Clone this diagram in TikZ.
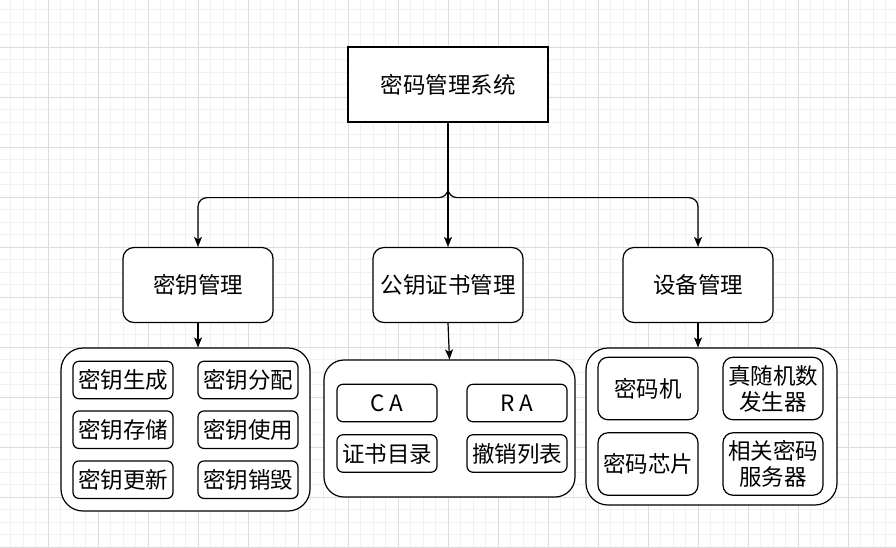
\documentclass[tikz,border=0pt]{standalone}
\usepackage{fontspec}
\newfontfamily\cjk{Noto Sans CJK SC}
\usetikzlibrary{arrows.meta}
\definecolor{minorline}{HTML}{F1F1F1}
\definecolor{majorline}{HTML}{DCDCDC}
\begin{document}
\begin{tikzpicture}[x=1pt,y=-1pt,
  label/.style={font=\cjk\fontsize{22.5}{26}\selectfont, align=center, text=black},
  box/.style={label, draw=black, line width=1.2pt, fill=white, inner sep=0pt},
  rootbox/.style={box, minimum width=200pt, minimum height=75pt},
  midbox/.style={box, rounded corners=11pt, minimum width=150pt, minimum height=75pt},
  groupbox/.style={box, rounded corners=22pt},
  itembox/.style={box, rounded corners=6pt, minimum width=100pt, minimum height=37.5pt},
  tallbox/.style={box, rounded corners=10pt, minimum width=100pt, minimum height=62.5pt},
  link/.style={draw=black, line width=1.2pt, -{Stealth[length=10pt,width=8pt,inset=2.5pt]}}
]
% canvas and background grid
\useasboundingbox (0,0) rectangle (896,547);
\fill[white] (0,0) rectangle (896,547);
\begin{scope}
\clip (0,0) rectangle (896,547);
\foreach \k in {0,...,72} {
  \draw[minorline, line width=0.8pt] ({-1.7+12.5*\k},0) -- ({-1.7+12.5*\k},547);
}
\foreach \k in {0,...,45} {
  \draw[minorline, line width=0.8pt] (0,{-2.7+12.5*\k}) -- (896,{-2.7+12.5*\k});
}
\foreach \k in {0,...,18} {
  \draw[majorline, line width=0.8pt] ({-1.7+50*\k},0) -- ({-1.7+50*\k},547);
}
\foreach \k in {0,...,11} {
  \draw[majorline, line width=0.8pt] (0,{-2.7+50*\k}) -- (896,{-2.7+50*\k});
}
\end{scope}

% top level
\node[rootbox] (root) at (448,84.5) {密码管理系统};

% second level
\node[midbox] (key) at (198,285) {密钥管理};
\node[midbox] (pki) at (448,285) {公钥证书管理};
\node[midbox] (dev) at (698,285) {设备管理};

% groups
\node[groupbox, minimum width=249pt, minimum height=163pt] (keyg) at (185.5,429.5) {};
\node[groupbox, rounded corners=20pt, minimum width=251pt, minimum height=137pt] (pkig) at (449.5,428.5) {};
\node[groupbox, minimum width=251pt, minimum height=157pt] (devg) at (711.5,426.5) {};

% key management items
\node[itembox] (k1) at (123,380) {密钥生成};
\node[itembox] (k2) at (248,380) {密钥分配};
\node[itembox] (k3) at (123,429.7) {密钥存储};
\node[itembox] (k4) at (248,429.7) {密钥使用};
\node[itembox] (k5) at (123,479.7) {密钥更新};
\node[itembox] (k6) at (248,479.7) {密钥销毁};

% PKI items
\node[itembox] (ca) at (387,403) {C A};
\node[itembox] (ra) at (517,403) {R A};
\node[itembox] (dir) at (387,453.5) {证书目录};
\node[itembox] (crl) at (517,453.5) {撤销列表};

% device items
\node[tallbox] (d1) at (648,388.5) {密码机};
\node[tallbox] (d2) at (773,388.5) {真随机数\\发生器};
\node[tallbox] (d3) at (648,464) {密码芯片};
\node[tallbox] (d4) at (773,464) {相关密码\\服务器};

% connectors
\draw[link, rounded corners=9pt] (root.south) -- ++(0,75) -| (key.north);
\draw[link] (root.south) -- (pki.north);
\draw[link, rounded corners=9pt] (root.south) -- ++(0,75) -| (dev.north);
\draw[link] (key.south) -- (key.south |- keyg.north);
\draw[link] (pki.south) -- (pkig.north);
\draw[link] (dev.south) -- (dev.south |- devg.north);
\end{tikzpicture}
\end{document}
